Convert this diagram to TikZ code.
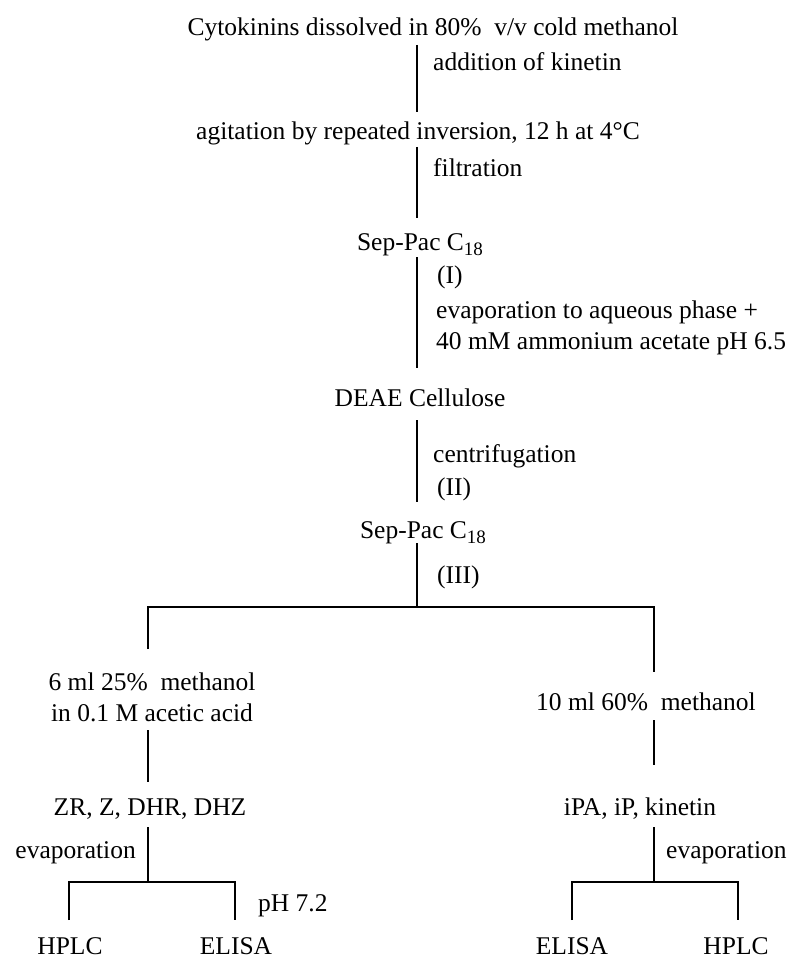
\documentclass[tikz,border=0pt]{standalone}
\usepackage{fontspec}
\setmainfont{Liberation Serif}
\newcommand{\subq}[1]{\raisebox{-5pt}{\fontsize{19}{22}\selectfont #1}}
\begin{document}
\begin{tikzpicture}[x=1pt,y=-1pt,
  txt/.style={inner sep=0pt,anchor=base,font=\fontsize{25.5}{30}\selectfont},
  lft/.style={txt,anchor=base west},
  rgt/.style={txt,anchor=base east},
  ln/.style={line width=1.3pt}]
\useasboundingbox (0,0) rectangle (795,960);
% texts
\node[txt] (t1) at (433,36) {Cytokinins dissolved in 80\%~ v/v cold methanol};
\node[lft] (l1) at (433,71) {addition of kinetin};
\node[txt] (t2) at (418,140) {agitation by repeated inversion, 12 h at 4°C};
\node[lft] (l2) at (433,176) {filtration};
\node[txt] (t3) at (420,250) {Sep-Pac C\subq{18}};
\node[lft] (l3a) at (437,283) {(I)};
\node[lft] (l3b) at (436,318) {evaporation to aqueous phase +};
\node[lft] (l3c) at (436,349) {40 mM ammonium acetate pH 6.5};
\node[txt] (t4) at (420,406) {DEAE Cellulose};
\node[lft] (l4a) at (433,462) {centrifugation};
\node[lft] (l4b) at (437,495) {(II)};
\node[txt] (t5) at (423,538) {Sep-Pac C\subq{18}};
\node[lft] (l5) at (437,583) {(III)};
\node[txt] (a1) at (152,690) {6 ml 25\%~ methanol};
\node[txt] (a2) at (152,721) {in 0.1 M acetic acid};
\node[txt] (b1) at (646,710) {10 ml 60\%~ methanol};
\node[txt] (a3) at (150,815) {ZR, Z, DHR, DHZ};
\node[txt] (b3) at (640,815) {iPA, iP, kinetin};
\node[rgt] (ea) at (136,858) {evaporation};
\node[lft] (eb) at (666,858) {evaporation};
\node[lft] (ph) at (258,911) {pH 7.2};
\node[txt] (h1) at (70,954) {HPLC};
\node[txt] (e1) at (236,954) {ELISA};
\node[txt] (e2) at (572,954) {ELISA};
\node[txt] (h2) at (736,954) {HPLC};
% junction coordinates
\coordinate (m0) at (417,45);   \coordinate (m1) at (417,112);
\coordinate (m2) at (417,147);  \coordinate (m3) at (417,218);
\coordinate (m4) at (417,257);  \coordinate (m5) at (417,368);
\coordinate (m6) at (417,420);  \coordinate (m7) at (417,502);
\coordinate (m8) at (417,543);  \coordinate (j) at (417,607);
\coordinate (jl) at (148,607);  \coordinate (jr) at (654,607);
\coordinate (al) at (148,649);  \coordinate (br) at (654,672);
\coordinate (al2) at (148,730); \coordinate (al3) at (148,782);
\coordinate (br2) at (654,720); \coordinate (br3) at (654,765);
\coordinate (al4) at (148,827); \coordinate (ka) at (148,882);
\coordinate (br4) at (654,827); \coordinate (kb) at (654,882);
\coordinate (k1) at (69,882);  \coordinate (k2) at (235,882);
\coordinate (k3) at (572,882); \coordinate (k4) at (738,882);
\coordinate (k1e) at (69,920);  \coordinate (k2e) at (235,920);
\coordinate (k3e) at (572,920); \coordinate (k4e) at (738,920);
% connectors
\draw[ln] (m0) -- (m1);
\draw[ln] (m2) -- (m3);
\draw[ln] (m4) -- (m5);
\draw[ln] (m6) -- (m7);
\draw[ln] (m8) -- (j);
\draw[ln] (al) -- (jl) -- (jr) -- (br);
\draw[ln] (al2) -- (al3);
\draw[ln] (br2) -- (br3);
\draw[ln] (al4) -- (ka);
\draw[ln] (br4) -- (kb);
\draw[ln] (k1e) -- (k1) -- (k2) -- (k2e);
\draw[ln] (k3e) -- (k3) -- (k4) -- (k4e);
\end{tikzpicture}
\end{document}
